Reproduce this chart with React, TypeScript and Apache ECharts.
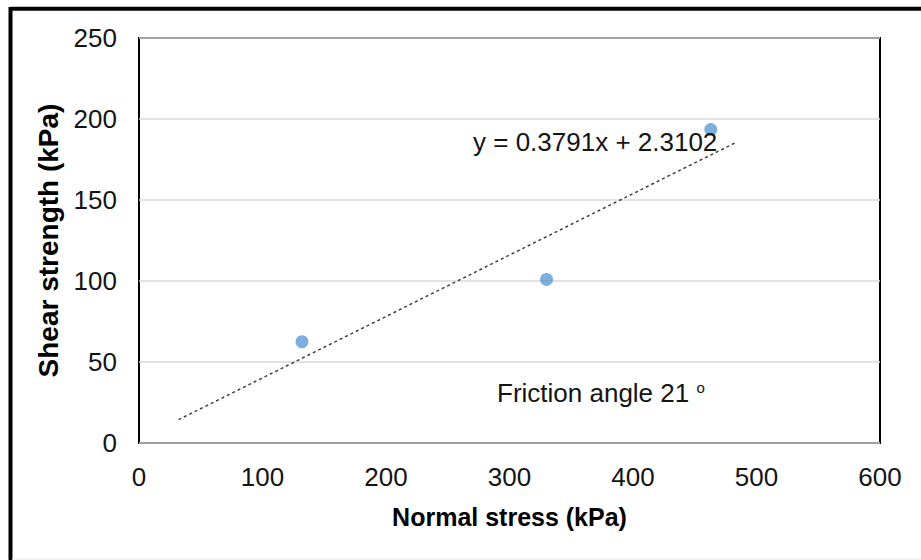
import React, { useEffect, useRef } from "react";
import * as echarts from "echarts";

const measuredPoints: [number, number][] = [
  [132, 62.5],
  [330, 101],
  [463, 193.5],
];
const trendLine: [number, number][] = [
  [32, 14.4],
  [483, 185.4],
];
const xTicks = { min: 0, max: 600, interval: 100 };
const yTicks = { min: 0, max: 250, interval: 50 };
const xTitle = "Normal stress (kPa)";
const yTitle = "Shear strength (kPa)";
const equationText = "y = 0.3791x + 2.3102";
const frictionText = "Friction angle 21 ";

const FONT = "'Liberation Sans', Arial, sans-serif";

export default function App() {
  const ref = useRef<HTMLDivElement>(null);
  useEffect(() => {
    document.body.style.margin = "0";
    const chart = echarts.init(ref.current!, null, { renderer: "svg" });
    chart.setOption({
      animation: false,
      backgroundColor: "#ffffff",
      grid: {
        left: 139,
        top: 38,
        right: 41,
        bottom: 117,
        show: true,
        borderColor: "#000000",
        borderWidth: 2,
        backgroundColor: "transparent",
      },
      xAxis: {
        type: "value",
        min: xTicks.min,
        max: xTicks.max,
        interval: xTicks.interval,
        axisLine: { show: false },
        axisTick: { show: false },
        splitLine: { show: false },
        axisLabel: { fontSize: 26, color: "#141414", fontFamily: FONT, margin: 21 },
        name: xTitle,
        nameLocation: "middle",
        nameGap: 61,
        nameTextStyle: { fontSize: 25, fontWeight: "bold", color: "#000", fontFamily: FONT },
      },
      yAxis: {
        type: "value",
        min: yTicks.min,
        max: yTicks.max,
        interval: yTicks.interval,
        axisLine: { show: false },
        axisTick: { show: false },
        splitLine: { show: true, lineStyle: { color: "#d9d9d9", width: 1.5 } },
        axisLabel: { fontSize: 26, color: "#141414", fontFamily: FONT, margin: 22 },
        name: yTitle,
        nameLocation: "middle",
        nameGap: 73,
        nameRotate: 90,
        nameTextStyle: { fontSize: 28, fontWeight: "bold", color: "#000", fontFamily: FONT },
      },
      series: [
        {
          type: "line",
          data: trendLine,
          showSymbol: false,
          symbol: "none",
          lineStyle: { color: "#404040", width: 1.5, type: [3, 3] },
          z: 2,
        },
        {
          type: "scatter",
          data: measuredPoints,
          symbolSize: 13,
          itemStyle: { color: "#5b9bd5" },
          z: 3,
        },
      ],
      graphic: [
        {
          type: "line",
          shape: { x1: 10.5, y1: 8.8, x2: 921, y2: 8.8 },
          style: { stroke: "#000", lineWidth: 4 },
        },
        {
          type: "line",
          shape: { x1: 10.5, y1: 7, x2: 10.5, y2: 560 },
          style: { stroke: "#000", lineWidth: 4 },
        },
        {
          type: "line",
          shape: { x1: 12, y1: 559, x2: 921, y2: 559 },
          style: { stroke: "#e6e6e6", lineWidth: 1 },
        },
        {
          type: "text",
          left: 473,
          top: 129,
          z: 10,
          style: { text: equationText, fontSize: 26, fill: "#141414", fontFamily: FONT },
        },
        {
          type: "text",
          left: 497,
          top: 380,
          z: 10,
          style: {
            text: "{main|" + frictionText + "}{sup|o}",
            rich: {
              main: { fontSize: 26, fill: "#141414", fontFamily: FONT },
              sup: { fontSize: 15, fill: "#141414", fontFamily: FONT, verticalAlign: "top", padding: [0, 0, 10, 0] },
            },
          },
        },
      ],
    });
    return () => chart.dispose();
  }, []);
  return <div ref={ref} style={{ width: 921, height: 560 }} />;
}
